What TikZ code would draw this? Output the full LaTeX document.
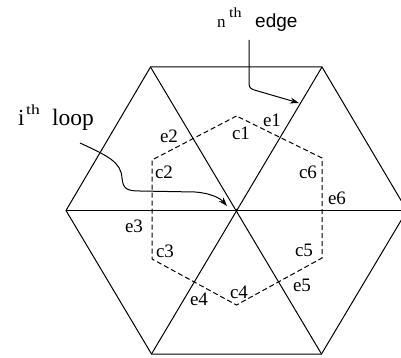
\documentclass[tikz,border=0pt]{standalone}
\usepackage{fontspec}
\setmainfont{Liberation Serif}
\newfontfamily\labelsans{Liberation Sans}
\usetikzlibrary{arrows.meta}
\begin{document}
\begin{tikzpicture}[x=1pt,y=-1pt,
  edgeline/.style={line width=1pt},
  loopline/.style={line width=1pt,dash pattern=on 5pt off 3pt},
  lbl/.style={font=\fontsize{19}{19}\selectfont,inner sep=0pt},
  txt/.style={inner sep=0pt,anchor=base west},
  pointer/.style={line width=1pt,-{Stealth[length=9pt,width=6pt]}}]
\useasboundingbox (0,0) rectangle (401,358);
\clip (0,0) rectangle (401,358);
% big hexagon
\coordinate (O) at (236.5,210.5);
\coordinate (V1) at (322,67);
\coordinate (V2) at (150.5,67);
\coordinate (V3) at (66,210.5);
\coordinate (V4) at (151.5,354);
\coordinate (V5) at (321.5,354);
\coordinate (V6) at (407,210.5);
\draw[edgeline] (V1) -- (V2) -- (V3) -- (V4) -- (V5) -- (V6) -- cycle;
\draw[edgeline] (V1) -- (V4);
\draw[edgeline] (V2) -- (V5);
\draw[edgeline] (V3) -- (V6);
\fill (O) circle (1.6pt);
% dashed loop
\coordinate (C1) at (236.5,116);
\coordinate (C2) at (152,160);
\coordinate (C3) at (152,259);
\coordinate (C4) at (236.5,305);
\coordinate (C5) at (322,258);
\coordinate (C6) at (322,158);
\draw[loopline] (C1) -- (C2) -- (C3) -- (C4) -- (C5) -- (C6) -- cycle;
% labels
\node[lbl] (e1) at (272,120) {e1};
\node[lbl] (e2) at (169,136) {e2};
\node[lbl] (e3) at (134,226) {e3};
\node[lbl] (e4) at (199,299) {e4};
\node[lbl] (e5) at (302,285) {e5};
\node[lbl] (e6) at (337,198) {e6};
\node[lbl] (c1) at (241,133) {c1};
\node[lbl] (c2) at (164,172) {c2};
\node[lbl] (c3) at (165,251) {c3};
\node[lbl] (c4) at (239,292) {c4};
\node[lbl] (c5) at (304,250) {c5};
\node[lbl] (c6) at (308,172) {c6};
% titles
\node[txt] (nn) at (217,28) {\fontsize{17}{17}\selectfont n};
\node[txt] (nth) at (229,18) {\fontsize{14}{14}\selectfont\scalebox{1.15}[1]{th}};
\node[txt] (nedge) at (255,28) {\fontsize{19}{19}\selectfont\labelsans edge};
\node[txt] (ii) at (18,126) {\fontsize{23}{23}\selectfont i};
\node[txt] (ith) at (26,115) {\fontsize{14}{14}\selectfont\scalebox{1.25}[1]{th}};
\node[txt] (iloop) at (52,126) {\fontsize{23.5}{23.5}\selectfont loop};
% pointers
\coordinate (a1) at (249,40);
\coordinate (a1end) at (299,103);
\draw[pointer] (a1) -- (249,84) .. controls (249,88) and (252,89.5) .. (256,90.5) -- (a1end);
\coordinate (a2) at (80,143);
\coordinate (a2end) at (227,206);
\draw[pointer] (a2) .. controls (108,156) and (121,162) .. (122,178)
  .. controls (123,189) and (127,191) .. (140,191) -- (195,192)
  .. controls (210,193) and (220,198) .. (a2end);
\end{tikzpicture}
\end{document}
